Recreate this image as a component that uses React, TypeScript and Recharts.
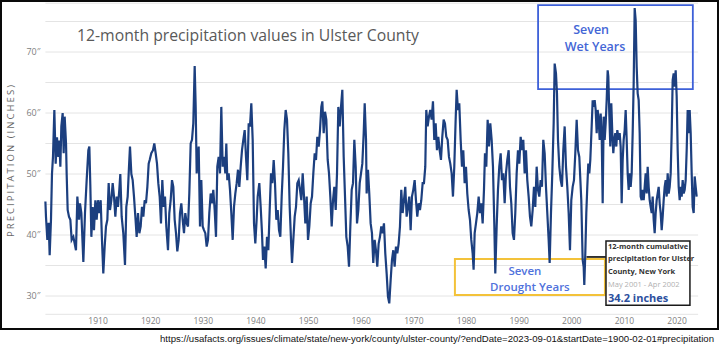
import { LineChart, Line, XAxis, YAxis, CartesianGrid, ReferenceArea, ReferenceLine } from "recharts";

// [decimal year, 12-month precipitation in inches]
type Reading = [number, number];

const readings1900s: Reading[] = [
  [1900.0, 45.5], [1900.11, 43], [1900.37, 39.2], [1900.62, 42], [1900.81, 36.7], [1901.06, 42.5],
  [1901.25, 50], [1901.44, 52.8], [1901.7, 60.5], [1901.95, 51.7], [1902.2, 56], [1902.46, 52.8],
  [1902.65, 55.5], [1902.84, 51.2], [1903.03, 57.8], [1903.28, 60], [1903.47, 53.4], [1903.66, 59.4],
  [1903.92, 55], [1904.04, 50], [1904.23, 44.1], [1904.48, 43], [1904.74, 42.5], [1904.99, 39.2],
  [1905.31, 39.7], [1905.56, 38.6], [1905.81, 37.5], [1906.07, 46.3], [1906.39, 42.5], [1906.57, 45.2],
  [1906.83, 43.6], [1907.21, 35.6], [1907.52, 43.6], [1907.84, 49], [1908.16, 53.9], [1908.35, 54.5],
  [1908.54, 47.9], [1908.73, 39.7], [1908.98, 44.6], [1909.23, 40.8], [1909.49, 45.7], [1909.74, 42.5],
  [1909.99, 45.7], [1910.25, 43.6], [1910.5, 45.7], [1910.75, 39.2], [1911.0, 33.7], [1911.26, 38.1],
  [1911.51, 41.4], [1911.77, 42.5], [1912.02, 48.5], [1912.27, 44.1], [1912.53, 45.7], [1912.78, 48.5],
  [1913.03, 46.3], [1913.29, 43], [1913.54, 46.3], [1913.79, 44.6], [1914.04, 47.4], [1914.23, 50],
  [1914.49, 43], [1914.8, 40.3], [1915.12, 35.1], [1915.37, 44.6], [1915.63, 46.3], [1915.88, 51.2],
  [1916.07, 54.5], [1916.33, 50], [1916.58, 49], [1916.83, 46.3], [1917.09, 43], [1917.34, 39.7],
  [1917.59, 43.6], [1917.85, 40.3], [1918.1, 41.4], [1918.35, 44.6], [1918.61, 43], [1918.86, 45.7],
  [1919.11, 45.2], [1919.37, 47.9], [1919.62, 51.7],
];

const readings1920s: Reading[] = [
  [1919.81, 52.3], [1920.12, 53.4], [1920.44, 53.9], [1920.69, 55], [1920.95, 53.4], [1921.2, 51.7],
  [1921.45, 48.5], [1921.71, 46.3], [1921.96, 41.9], [1922.21, 49], [1922.47, 44.6], [1922.72, 46.3],
  [1922.97, 41.4], [1923.29, 37.5], [1923.54, 43.6], [1923.8, 45.7], [1924.05, 49], [1924.3, 47.9],
  [1924.56, 42.5], [1924.81, 40.3], [1925.06, 37.3], [1925.32, 39.2], [1925.57, 43.6], [1925.82, 45.2],
  [1926.08, 42.5], [1926.33, 40.3], [1926.58, 43.6], [1926.84, 41.9], [1927.09, 41.4], [1927.34, 46.8],
  [1927.6, 55], [1927.85, 55.6], [1928.1, 58.3], [1928.36, 67.7], [1928.55, 61], [1928.74, 50.1],
  [1928.93, 52.3], [1929.12, 54.5], [1929.37, 41.4], [1929.62, 49], [1929.88, 41.4], [1930.13, 40.8],
  [1930.38, 40.3], [1930.64, 38.1], [1930.89, 39.2], [1931.14, 43.6], [1931.4, 46.8], [1931.65, 45.2],
  [1931.9, 47.4], [1932.16, 44.1], [1932.41, 39.7], [1932.66, 51.2], [1932.92, 52.8], [1933.17, 50.1],
  [1933.42, 61], [1933.68, 51.2], [1933.93, 52.8], [1934.18, 50.1], [1934.37, 55], [1934.56, 49],
  [1934.82, 50.1], [1935.07, 47.4], [1935.32, 43.6], [1935.58, 39.2], [1935.83, 44.6], [1936.08, 46.8],
  [1936.34, 48.5], [1936.59, 50.7], [1936.84, 47.9], [1937.1, 51.2], [1937.35, 53.9], [1937.6, 55.6],
  [1937.86, 57.2], [1938.11, 52.8], [1938.36, 49], [1938.62, 58.3], [1938.87, 57.8], [1939.12, 61.6],
  [1939.38, 55.6], [1939.63, 41.9], [1939.88, 38.6], [1940.13, 42.5],
];

const readings1940s: Reading[] = [
  [1940.33, 46.3], [1940.64, 48.5], [1940.9, 44.6], [1941.15, 40.3], [1941.34, 35.9], [1941.59, 38.1],
  [1941.85, 34.5], [1942.1, 39.7], [1942.35, 37.5], [1942.61, 44.1], [1942.86, 50.1], [1943.11, 48.5],
  [1943.37, 52.3], [1943.62, 48.5], [1943.87, 42.5], [1944.13, 44.1], [1944.38, 40.8], [1944.63, 39.7],
  [1944.89, 46.3], [1945.14, 51.2], [1945.39, 57.2], [1945.65, 60.5], [1945.9, 58.9], [1946.15, 53.4],
  [1946.41, 44.6], [1946.66, 39.2], [1946.85, 35.4], [1947.1, 39.2], [1947.36, 43], [1947.61, 44.6],
  [1947.86, 48.5], [1948.12, 49], [1948.37, 47.4], [1948.62, 45.7], [1948.88, 50.1], [1949.13, 46.3],
  [1949.38, 41.9], [1949.64, 46.3], [1949.89, 39.2], [1950.14, 41.4], [1950.4, 45.2], [1950.65, 46.3],
  [1950.9, 50.1], [1951.16, 53.4], [1951.41, 52.3], [1951.66, 56.1], [1951.92, 54.5], [1952.17, 57.2],
  [1952.42, 61], [1952.61, 61.9], [1952.87, 56.7], [1953.12, 60.2], [1953.37, 58.9], [1953.63, 52.3],
  [1953.88, 50.1], [1954.13, 46.3], [1954.39, 41.4], [1954.64, 45.7], [1954.89, 47.9], [1955.15, 44.1],
  [1955.4, 50.1], [1955.65, 61], [1955.91, 57.8], [1956.16, 61], [1956.41, 63.8], [1956.67, 52.8],
  [1956.92, 46.3], [1957.17, 39.7], [1957.43, 38.1], [1957.68, 34.8], [1957.93, 41.4], [1958.19, 47.4],
  [1958.44, 48.5], [1958.69, 55.6], [1958.95, 51.2], [1959.2, 41.9], [1959.45, 44.1], [1959.71, 48.5],
  [1959.96, 50.1], [1960.21, 51.7], [1960.47, 56.7], [1960.66, 61.6], [1960.91, 55.6],
];

const readings1960s: Reading[] = [
  [1961.03, 46.8], [1961.28, 50.7], [1961.53, 46.8], [1961.79, 41.9], [1962.04, 40.3], [1962.29, 35.4],
  [1962.55, 39.2], [1962.8, 37.5], [1963.05, 34.8], [1963.31, 38.6], [1963.56, 39.7], [1963.81, 41.4],
  [1964.07, 40.3], [1964.32, 41.9], [1964.57, 37], [1964.83, 33.7], [1965.08, 29.9], [1965.33, 28.8],
  [1965.59, 32.6], [1965.84, 35.9], [1966.09, 37.5], [1966.35, 34.8], [1966.6, 38.1], [1966.85, 37],
  [1967.11, 38.6], [1967.36, 41.4], [1967.61, 47.4], [1967.87, 43.6], [1968.12, 45.7], [1968.37, 47.9],
  [1968.63, 43], [1968.88, 44.6], [1969.13, 46.3], [1969.39, 40.8], [1969.64, 46.3], [1969.89, 47.4],
  [1970.15, 49], [1970.4, 45.7], [1970.65, 43], [1970.91, 45.2], [1971.16, 44.1], [1971.41, 45.7],
  [1971.67, 48.5], [1971.92, 48.5], [1972.17, 51.2], [1972.36, 60.5], [1972.62, 57.8], [1972.87, 59.4],
  [1973.12, 60.5], [1973.38, 58.9], [1973.63, 61.9], [1973.88, 55.6], [1974.14, 58.3], [1974.39, 53.9],
  [1974.64, 56.1], [1974.9, 53.9], [1975.15, 52.3], [1975.4, 56.1], [1975.66, 58.9], [1975.91, 58.3],
  [1976.16, 56.1], [1976.42, 55.6], [1976.67, 52.8], [1976.92, 51.7], [1977.18, 50.1], [1977.43, 46.3],
  [1977.68, 51.2], [1977.94, 58.9], [1978.13, 63.8], [1978.38, 60.5], [1978.63, 61.6], [1978.89, 55.6],
  [1979.14, 51.2], [1979.39, 53.9], [1979.65, 48.5], [1979.9, 51.2], [1980.15, 46.8], [1980.41, 44.1],
  [1980.66, 42.5], [1980.91, 39.2], [1981.17, 37], [1981.35, 34.3],
];

const readings1980s: Reading[] = [
  [1981.55, 40.3], [1981.8, 41.9], [1982.05, 43.6], [1982.31, 46.3], [1982.56, 43.6], [1982.81, 45.2],
  [1983.07, 41.9], [1983.32, 47.4], [1983.51, 53.4], [1983.76, 51.2], [1984.02, 58.9], [1984.27, 54.5],
  [1984.52, 58.3], [1984.78, 55.6], [1985.03, 51.2], [1985.28, 41.9], [1985.47, 33.7], [1985.73, 41.4],
  [1985.98, 47.4], [1986.23, 51.2], [1986.49, 53.4], [1986.74, 49], [1986.99, 50.1], [1987.25, 45.2],
  [1987.5, 50.1], [1987.75, 52.3], [1988.01, 53.9], [1988.26, 47.9], [1988.51, 45.2], [1988.77, 40.3],
  [1989.02, 39.2], [1989.27, 43.6], [1989.53, 50.1], [1989.78, 53.9], [1990.03, 51.7], [1990.29, 56.1],
  [1990.54, 53.9], [1990.79, 55.6], [1991.05, 50.1], [1991.3, 53.9], [1991.55, 49], [1991.81, 46.3],
  [1992.06, 43], [1992.31, 41.4], [1992.57, 44.1], [1992.82, 47.9], [1993.07, 44.6], [1993.33, 51.2],
  [1993.58, 47.4], [1993.83, 46.3], [1994.09, 49], [1994.34, 47.9], [1994.59, 55.6], [1994.85, 53.4],
  [1995.1, 47.9], [1995.35, 43.6], [1995.61, 39.2], [1995.8, 35.4], [1996.05, 43.6], [1996.3, 50.1],
  [1996.56, 58.3], [1996.75, 68.1], [1997.0, 66.5], [1997.19, 63.2], [1997.38, 55.6], [1997.63, 51.2],
  [1997.89, 49], [1998.14, 47.9], [1998.39, 53.9], [1998.65, 57.8], [1998.9, 51.2], [1999.15, 47.9],
  [1999.41, 43.6], [1999.66, 37.5], [1999.91, 45.7], [2000.17, 47.9], [2000.42, 49], [2000.67, 53.4],
  [2000.93, 58.9], [2001.18, 53.9], [2001.43, 52.8],
];

const readings2000s: Reading[] = [
  [2001.81, 45.7], [2002.07, 35.9], [2002.26, 34.8], [2002.38, 31.8], [2002.57, 37], [2002.76, 43.6],
  [2002.95, 47.9], [2003.14, 51.7], [2003.33, 50.1], [2003.52, 52.3], [2003.78, 57.8], [2003.97, 62.1],
  [2004.16, 61], [2004.35, 62.1], [2004.54, 60.5], [2004.73, 56.7], [2004.92, 60.5], [2005.11, 58.9],
  [2005.3, 55.6], [2005.49, 59.9], [2005.68, 56.7], [2005.87, 45.2], [2006.06, 59.4], [2006.25, 55.6],
  [2006.44, 58.3], [2006.63, 62.1], [2006.82, 67], [2006.94, 66], [2007.13, 59.9], [2007.32, 54.5],
  [2007.51, 61.6], [2007.7, 56.7], [2007.89, 53.4], [2008.08, 55.6], [2008.27, 56.7], [2008.46, 54.5],
  [2008.65, 57.2], [2008.91, 55.6], [2009.1, 56.7], [2009.29, 54.5], [2009.48, 45.2], [2009.67, 52.3],
  [2009.86, 55.6], [2010.05, 57.2], [2010.24, 60.5], [2010.43, 55.6], [2010.62, 50.1], [2010.81, 47.4],
  [2011.0, 50.1], [2011.19, 47.9], [2011.38, 50.1], [2011.57, 56.7], [2011.76, 64.9], [2011.95, 77.2],
  [2012.14, 75.2], [2012.33, 67.6], [2012.52, 63.2], [2012.71, 62.1], [2012.9, 56.7], [2013.09, 46.3],
  [2013.28, 45.7], [2013.47, 47.4], [2013.66, 45.7], [2013.85, 47.9], [2014.04, 50.1], [2014.23, 46.8],
  [2014.42, 51.2], [2014.61, 47.9], [2014.8, 45.7], [2014.99, 44.6], [2015.18, 43.6], [2015.37, 46.3],
  [2015.56, 42.5], [2015.75, 40.3], [2015.94, 43.6], [2016.13, 45.7], [2016.32, 46.8], [2016.51, 47.9],
  [2016.7, 45.2], [2016.89, 43.6], [2017.08, 40.8], [2017.27, 43], [2017.46, 45.7], [2017.65, 47.9],
  [2017.84, 49], [2018.03, 46.3], [2018.22, 50.1], [2018.41, 46.8], [2018.6, 47.9], [2018.79, 50.1],
  [2018.98, 56.7], [2019.17, 65.4], [2019.36, 66.5], [2019.55, 64.3], [2019.74, 67], [2019.93, 62.7],
  [2020.12, 53.9], [2020.31, 47.9], [2020.5, 45.7], [2020.69, 47.9], [2020.88, 46.3], [2021.07, 49],
  [2021.26, 46.8], [2021.45, 47.4], [2021.64, 49], [2021.83, 53.9], [2022.02, 60.5], [2022.21, 56.7],
  [2022.4, 60.5], [2022.59, 56.7], [2022.78, 50.1], [2022.97, 44.6], [2023.16, 43.6], [2023.35, 49.6],
  [2023.54, 47.9], [2023.73, 46.3],
];

const yearTicks = [1910, 1920, 1930, 1940, 1950, 1960, 1970, 1980, 1990, 2000, 2010, 2020];
const inchTicks = [30, 35, 40, 45, 50, 55, 60, 65, 70, 75];

// annotation extents, in chart units (years, inches)
const wetBox = { x1: 1993.6, x2: 2023.0, y1: 63.9, y2: 77.7 };
const droughtBox = { x1: 1977.8, x2: 2006.3, y1: 30.15, y2: 36.05 };
const calloutBox = { x1: 2006.5, x2: 2022.45, y1: 28.5, y2: 39.0 };
const calloutLink = { from: 2002.8, to: 2006.5, at: 36.4 };

const series = [
  ...readings1900s,
  ...readings1920s,
  ...readings1940s,
  ...readings1960s,
  ...readings1980s,
  ...readings2000s,
].map(([year, inches]) => ({ year, inches }));

const FONT = "'Open Sans', 'DejaVu Sans', sans-serif";

function YearTick({ x, y, payload }: any) {
  return (
    <text x={x} y={y} dy={10} textAnchor="middle" fontSize={8.5} fill="#808080" fontFamily={FONT}>
      {payload.value}
    </text>
  );
}

function InchTick({ x, y, payload }: any) {
  if (payload.value % 10 !== 0) return null;
  return (
    <text x={x} y={y} dy={3} textAnchor="end" fontSize={9} fill="#808080" fontFamily={FONT}>
      {`${payload.value}″`}
    </text>
  );
}

function WetLabel({ viewBox }: any) {
  const { x, y } = viewBox;
  return (
    <g fontFamily={FONT} fontWeight={600} fontSize={12.5} fill="#4466d6" textAnchor="middle">
      <text x={x + 53} y={y + 28.5}>Seven</text>
      <text x={x + 57} y={y + 45.5}>Wet Years</text>
    </g>
  );
}

function DroughtLabel({ viewBox }: any) {
  const { x, y } = viewBox;
  return (
    <g fontFamily={FONT} fontWeight={600} fontSize={11.5} fill="#5072dc" textAnchor="middle">
      <text x={x + 70} y={y + 16}>Seven</text>
      <text x={x + 75} y={y + 31.5}>Drought Years</text>
    </g>
  );
}

function CalloutLabel({ viewBox }: any) {
  const { x, y } = viewBox;
  return (
    <g fontFamily={FONT}>
      <text x={x + 2} y={y + 8} fontSize={7.5} fontWeight={700} fill="#333">12-month cumulative</text>
      <text x={x + 2} y={y + 19.5} fontSize={7.5} fontWeight={700} fill="#333">precipitation for Ulster</text>
      <text x={x + 2} y={y + 33} fontSize={7.5} fontWeight={700} fill="#333">County, New York</text>
      <text x={x + 2} y={y + 46} fontSize={7.5} fill="#b0b0b0">May 2001 - Apr 2002</text>
      <text x={x + 2} y={y + 61} fontSize={11} fontWeight={700} fill="#2c4f9e">34.2 inches</text>
    </g>
  );
}

export default function App() {
  return (
    <div style={{ position: "relative", width: 720, height: 348, background: "#fff", overflow: "hidden" }}>
      <style>{"body{margin:0}"}</style>
      <div style={{ position: "absolute", left: 0, top: 0 }}>
        <LineChart
          width={720}
          height={330}
          data={series}
          margin={{ top: 3.2, right: 21.9, bottom: 0, left: 0 }}
        >
          <CartesianGrid vertical={false} stroke="#e4e4e4" strokeWidth={1} />
          <XAxis
            type="number"
            dataKey="year"
            domain={[1900, 2024]}
            ticks={yearTicks}
            interval={0}
            height={15.7}
            axisLine={false}
            tickLine={false}
            tickSize={0}
            tickMargin={0}
            tick={<YearTick />}
          />
          <YAxis
            type="number"
            domain={[27, 78]}
            ticks={inchTicks}
            interval={0}
            width={45.4}
            axisLine={false}
            tickLine={false}
            tickSize={0}
            tickMargin={5}
            tick={<InchTick />}
          />
          <ReferenceArea
            {...droughtBox}
            ifOverflow="visible"
            fill="none"
            fillOpacity={0}
            stroke="#f3c23a"
            strokeWidth={2}
            label={DroughtLabel}
          />
          <Line
            type="linear"
            dataKey="inches"
            stroke="#1c3f7f"
            strokeWidth={2.2}
            dot={false}
            activeDot={false}
            isAnimationActive={false}
          />
          <ReferenceArea
            {...wetBox}
            ifOverflow="visible"
            fill="none"
            fillOpacity={0}
            stroke="#3d60d8"
            strokeWidth={1.8}
            label={WetLabel}
          />
          <ReferenceLine
            segment={[
              { x: calloutLink.from, y: calloutLink.at },
              { x: calloutLink.to, y: calloutLink.at },
            ]}
            ifOverflow="visible"
            stroke="#222"
            strokeWidth={1.8}
          />
          <ReferenceArea
            {...calloutBox}
            ifOverflow="visible"
            fill="#ffffff"
            fillOpacity={1}
            stroke="#1a1a1a"
            strokeWidth={1.5}
            label={CalloutLabel}
          />
        </LineChart>
      </div>
      <svg
        width={720}
        height={348}
        style={{ position: "absolute", left: 0, top: 0, pointerEvents: "none" }}
      >
        <text x={77} y={40.5} fontSize={17} fill="#595959" fontFamily={FONT} textLength={342} lengthAdjust="spacingAndGlyphs">
          12-month precipitation values in Ulster County
        </text>
        <text
          transform="translate(13.5,161) rotate(-90)"
          textAnchor="middle"
          fontSize={9.5}
          fill="#666"
          fontFamily={FONT}
          textLength={152}
          lengthAdjust="spacing"
        >
          PRECIPITATION (INCHES)
        </text>
        <text
          x={160}
          y={342}
          fontSize={9.2}
          fill="#111"
          fontFamily="'Liberation Sans', Arial, sans-serif"
          textLength={554}
          lengthAdjust="spacingAndGlyphs"
        >
          https://usafacts.org/issues/climate/state/new-york/county/ulster-county/?endDate=2023-09-01&amp;startDate=1900-02-01#precipitation
        </text>
      </svg>
      <div
        style={{
          position: "absolute",
          left: 0,
          top: 0,
          width: 719,
          height: 330,
          border: "2px solid #0a0a0a",
          boxSizing: "border-box",
          pointerEvents: "none",
        }}
      />
    </div>
  );
}
